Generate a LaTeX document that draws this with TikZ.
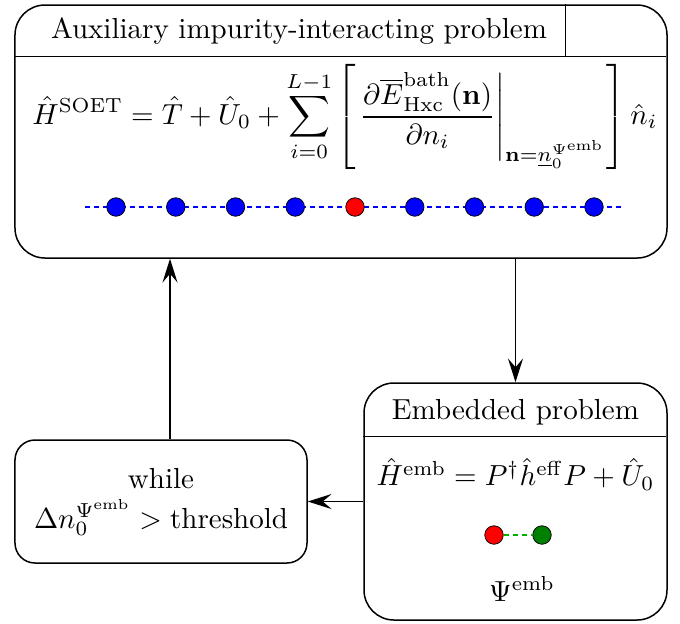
\documentclass[tikz,border=0pt]{standalone}
\usepackage{amsmath}
\usepackage{amssymb}
\usetikzlibrary{shapes.geometric, arrows.meta, positioning, calc}

\newcommand{\enlarge}[1]{\scalebox{1.16}{#1}}

\begin{document}
\begin{tikzpicture}[
    x=0.4pt, y=-0.4pt,
    panel/.style={rectangle, rounded corners=12pt, draw=black, line width=0.6pt, inner sep=0pt},
    loopbox/.style={rectangle, rounded corners=8pt, draw=black, line width=0.6pt, align=center, inner sep=0pt},
    site/.style={circle, draw=black, line width=0.3pt, minimum size=7.4pt, inner sep=0pt},
    arrow/.style={line width=0.6pt, ->,>={Stealth[length=9.5pt, width=6pt, inset=3.5pt]}}
]
\useasboundingbox (0,0) rectangle (680,623);

% boxes
\node (aux) [panel, minimum width=260.8pt, minimum height=101.2pt] at (341,131.5) {};
\node (emb) [panel, minimum width=121.2pt, minimum height=94.8pt] at (515.5,501.5) {};
\node (loop) [loopbox, minimum width=116.8pt, minimum height=49.2pt] at (161,501.5) {\enlarge{\begin{tabular}{@{}c@{}}while\\$\Delta n_0^{\Psi^{\mathrm{emb}}} > \text{threshold}$\end{tabular}}};

% headers
\draw [line width=0.6pt] (aux.north west) ++(0,52) -- ++(652,0);
\draw [line width=0.6pt] (aux.north west) ++(551,0) -- ++(0,52);
\node (auxtitle) at (299,31) {\enlarge{Auxiliary impurity-interacting problem}};
\draw [line width=0.6pt] (emb.north west) ++(0,54) -- ++(303,0);
\node (embtitle) at (515.5,412) {\enlarge{Embedded problem}};

% equations
\node (soet) at (345,117) {\enlarge{$\displaystyle \hat{H}^{\mathrm{SOET}} = \hat{T} + \hat{U}_0 + \sum_{i=0}^{L-1} \left[ \left.\frac{\partial \overline{E}^{\mathrm{bath}}_{\mathrm{Hxc}}(\mathbf{n})}{\partial n_i}\right|_{\mathbf{n}=\underline{n}_0^{\Psi^{\mathrm{emb}}}} \right] \hat{n}_i$}};
\node (hemb) at (515.5,474) {\enlarge{$\hat{H}^{\mathrm{emb}} = P^{\dagger}\hat{h}^{\mathrm{eff}}P + \hat{U}_0$}};
\node (psi) at (522,589) {\enlarge{$\Psi^{\mathrm{emb}}$}};

% lattice
\coordinate (chainL) at (85,207);
\coordinate (chainR) at (622,207);
\draw [blue, line width=0.6pt, dash pattern=on 2pt off 1.6pt] (chainL) -- (chainR);
\foreach \k in {0,...,8} {
  \ifnum\k=4
    \node (s\k) [site, fill=red] at (116+59.75*\k,207) {};
  \else
    \node (s\k) [site, fill=blue] at (116+59.75*\k,207) {};
  \fi
}

% dimer
\node (imp) [site, fill=red] at (494,535) {};
\node (bath) [site, fill=green!50!black] at (542,535) {};
\draw [green!70!black, line width=0.6pt, dash pattern=on 2pt off 1.6pt] (imp) -- (bath);

% loop
\draw [arrow] (aux.south -| emb.north) -- (emb.north);
\draw [arrow] (emb.west) -- (loop.east);
\draw [arrow] ([xshift=3.6pt]loop.north) -- ([xshift=3.6pt]loop.north |- aux.south);

\end{tikzpicture}
\end{document}
